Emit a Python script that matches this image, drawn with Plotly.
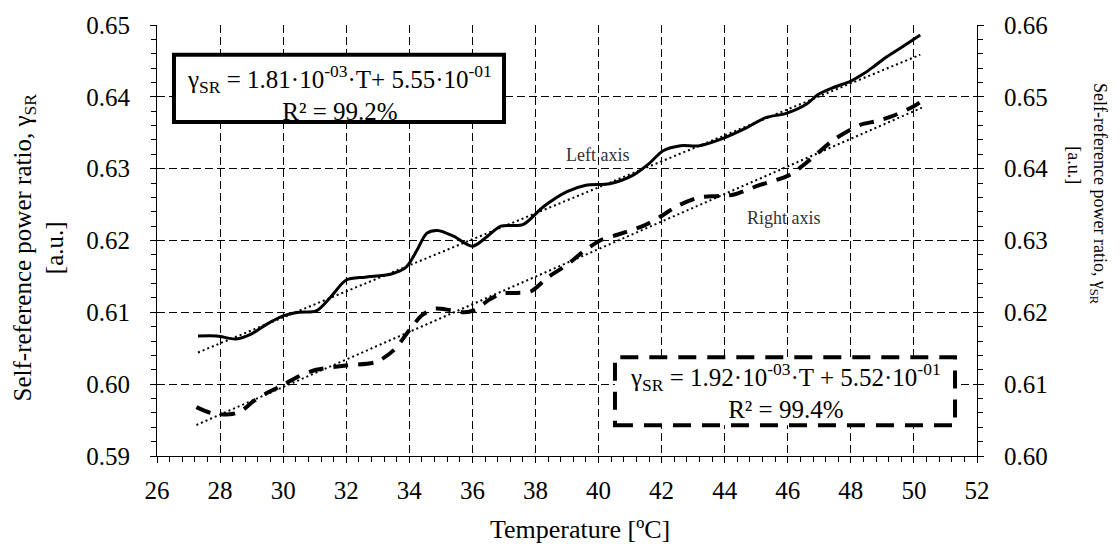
import numpy as np
import plotly.graph_objects as go

# Self-reference power ratio vs temperature (left-axis series, solid)
temp_left = [27.3, 27.9, 28.5, 29.0, 29.5, 30.0, 30.5, 31.05, 31.5, 32.0, 32.6, 33.4,
             33.9, 34.25, 34.55, 34.9, 35.4, 36.0, 36.4, 36.9, 37.6, 38.25, 39.0, 39.6,
             40.35, 41.1, 41.6, 42.05, 42.6, 43.2, 44.05, 44.7, 45.3, 45.95, 46.6, 46.95,
             47.45, 48.0, 48.4, 48.75, 49.15, 49.65, 50.2]
ratio_left = [0.6067, 0.6067, 0.6063, 0.6070, 0.6084, 0.6095, 0.6100, 0.6102, 0.6121,
              0.6145, 0.6149, 0.6153, 0.6163, 0.6187, 0.6210, 0.6214, 0.6206, 0.6192,
              0.6203, 0.6220, 0.6222, 0.6247, 0.6268, 0.6277, 0.6279, 0.6291, 0.6307,
              0.6325, 0.6332, 0.6332, 0.6344, 0.6357, 0.6371, 0.6377, 0.6390, 0.6403,
              0.6413, 0.6422, 0.6432, 0.6443, 0.6456, 0.6470, 0.6486]

# Right-axis series (dashed)
temp_right = [27.25, 27.7, 28.3, 28.65, 29.05, 29.5, 30.0, 30.5, 31.05, 32.0, 32.95,
              33.5, 34.0, 34.4, 34.8, 35.3, 35.75, 36.05, 36.55, 36.9, 37.4, 37.85, 38.4,
              39.0, 39.5, 40.05, 40.6, 41.4, 41.95, 42.5, 43.2, 43.8, 44.3, 45.1, 46.05,
              46.75, 47.45, 48.3, 48.8, 49.25, 50.0, 50.25]
ratio_right = [0.6068, 0.6060, 0.6058, 0.6062, 0.6076, 0.6088, 0.6099, 0.6111, 0.6120,
               0.6126, 0.6131, 0.6147, 0.6175, 0.6196, 0.6205, 0.6203, 0.6200, 0.6203,
               0.6218, 0.6226, 0.6227, 0.6229, 0.6249, 0.6266, 0.6284, 0.6300, 0.6308,
               0.6320, 0.6333, 0.6348, 0.6360, 0.6362, 0.6364, 0.6377, 0.6391, 0.6414,
               0.6440, 0.6461, 0.6466, 0.6472, 0.6487, 0.6494]

# Linear fits quoted in the boxes: gamma = slope*T + intercept
fit_left = {"slope": 1.81e-03, "intercept": 5.55e-01, "r2": "99.2%"}
fit_right = {"slope": 1.92e-03, "intercept": 5.52e-01, "r2": "99.4%"}

x_ticks = list(range(26, 53, 2))
left_ticks = [0.59, 0.60, 0.61, 0.62, 0.63, 0.64, 0.65]
right_ticks = [0.60, 0.61, 0.62, 0.63, 0.64, 0.65, 0.66]

FONT = "Liberation Serif, Times New Roman, serif"
BLACK = "#000000"

tl = np.array([min(temp_left), max(temp_left)])
tr = np.array([min(temp_right), max(temp_right)])

fig = go.Figure()
fig.add_trace(go.Scatter(x=tl, y=fit_left["slope"] * tl + fit_left["intercept"],
                         mode="lines", line=dict(color=BLACK, width=2, dash="2px,3px"),
                         xaxis="x", yaxis="y", hoverinfo="skip"))
fig.add_trace(go.Scatter(x=tr, y=fit_right["slope"] * tr + fit_right["intercept"],
                         mode="lines", line=dict(color=BLACK, width=2, dash="2px,3px"),
                         xaxis="x", yaxis="y2", hoverinfo="skip"))
fig.add_trace(go.Scatter(x=temp_left, y=ratio_left, mode="lines",
                         line=dict(color=BLACK, width=3, shape="spline", smoothing=0.8),
                         xaxis="x", yaxis="y"))
fig.add_trace(go.Scatter(x=temp_right, y=ratio_right, mode="lines",
                         line=dict(color=BLACK, width=4, shape="spline", smoothing=0.8,
                                   dash="15px,10px"),
                         xaxis="x", yaxis="y2"))

tickfont = dict(family=FONT, size=25, color=BLACK)
common = dict(showline=True, linecolor=BLACK, linewidth=1, tickcolor=BLACK, tickwidth=1,
              zeroline=False)

x_range = [26, 52]
yl_range = [0.59, 0.65]
yr_range = [0.60, 0.66]

fig.update_layout(
    width=1120, height=544,
    margin=dict(l=157, r=143, t=20, b=88),
    paper_bgcolor="white", plot_bgcolor="white",
    showlegend=False,
    xaxis=dict(range=x_range, tickvals=x_ticks, ticks="outside", ticklen=6,
               minor=dict(dtick=0.4, tick0=26, ticks="outside", ticklen=5,
                          tickcolor=BLACK, showgrid=False),
               showgrid=True, gridcolor=BLACK, gridwidth=1, griddash="8px,4px",
               tickfont=tickfont, ticklabelstandoff=6, anchor="y", **common),
    xaxis2=dict(range=x_range, tickvals=x_ticks, ticks="inside", ticklen=6,
                minor=dict(dtick=0.4, tick0=26, ticks="inside", ticklen=5,
                           tickcolor=BLACK),
                showgrid=False, showticklabels=False, overlaying="x", anchor="y",
                side="bottom", **common),
    yaxis=dict(range=yl_range, tickvals=left_ticks, tickformat=".2f", ticks="outside",
               ticklen=6,
               minor=dict(dtick=0.002, tick0=0.59, ticks="outside", ticklen=5,
                          tickcolor=BLACK, showgrid=False),
               showgrid=True, gridcolor=BLACK, gridwidth=1, griddash="8px,4px",
               tickfont=tickfont, ticklabelstandoff=15, anchor="x", **common),
    yaxis2=dict(range=yr_range, tickvals=right_ticks, tickformat=".2f", ticks="outside",
                ticklen=6,
                minor=dict(dtick=0.002, tick0=0.60, ticks="outside", ticklen=5,
                           tickcolor=BLACK, showgrid=False),
                showgrid=False, side="right", overlaying="y", anchor="x",
                tickfont=tickfont, ticklabelstandoff=15, **common),
    yaxis3=dict(range=yl_range, tickvals=left_ticks, ticks="inside", ticklen=6,
                minor=dict(dtick=0.002, tick0=0.59, ticks="inside", ticklen=5,
                           tickcolor=BLACK),
                showgrid=False, showticklabels=False, overlaying="y", anchor="x",
                side="left", **common),
    yaxis4=dict(range=yr_range, tickvals=right_ticks, ticks="inside", ticklen=6,
                minor=dict(dtick=0.002, tick0=0.60, ticks="inside", ticklen=5,
                           tickcolor=BLACK),
                showgrid=False, showticklabels=False, overlaying="y", anchor="x",
                side="right", **common),
)

# Equation boxes
fig.add_shape(type="rect", xref="paper", yref="paper", x0=0.0207, x1=0.4232,
              y0=0.7752, y1=0.9312, line=dict(color=BLACK, width=4),
              fillcolor="white", layer="above")
fig.add_shape(type="rect", xref="paper", yref="paper", x0=0.5585, x1=0.9732,
              y0=0.0711, y1=0.2294, line=dict(color=BLACK, width=4, dash="18px,11px"),
              fillcolor="white", layer="above")


def eq_text(fit, sep):
    s = f"{fit['slope']:.2e}".split("e")
    i = f"{fit['intercept']:.2e}".split("e")
    return (f"γ<sub>SR</sub> = {s[0]}·10<sup>{s[1].replace('+', '')}</sup>·T{sep}+ "
            f"{i[0]}·10<sup>{i[1].replace('+', '')}</sup><br>R² = {fit['r2']}")


def label(x, y, text, font, **kw):
    fig.add_annotation(xref="paper", yref="paper", x=x, y=y, showarrow=False,
                       text=text, font=font, xanchor="center", yanchor="middle", **kw)


box_font = dict(family=FONT, size=25, color=BLACK)
label(0.222, 0.843, eq_text(fit_left, ""), box_font, align="center")
label(0.7659, 0.150, eq_text(fit_right, " "), box_font, align="center")

# Series labels
lab_font = dict(family=FONT, size=18, color="#333333")
label(0.5366, 0.6995, "Left axis", lab_font)
label(0.7646, 0.5528, "Right axis", lab_font)

# Axis titles
label(0.5159, -0.170, "Temperature [ºC]", dict(family=FONT, size=26, color=BLACK))
label(-0.1439, 0.4839, "Self-reference power ratio, γ<sub>SR</sub><br>[a.u.]",
      dict(family=FONT, size=25, color=BLACK), textangle=-90, align="center")
label(1.1488, 0.6078, "Self-reference power ratio, γ<sub>SR</sub>",
      dict(family=FONT, size=18, color=BLACK), textangle=90)
label(1.1183, 0.6743, "[a.u.]", dict(family=FONT, size=18, color=BLACK), textangle=90)

fig.write_html("out.html")
